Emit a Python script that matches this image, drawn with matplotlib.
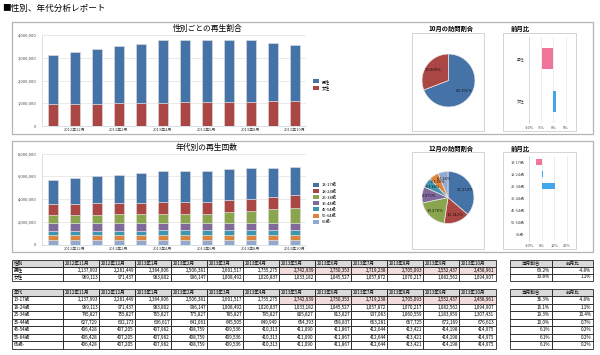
import numpy as np
import matplotlib
matplotlib.use('Agg')
import matplotlib.pyplot as plt
from matplotlib.patches import Rectangle, Patch
from matplotlib.table import Table

plt.rcParams['font.family'] = ['Noto Sans CJK JP', 'DejaVu Sans']

# ---- data ----
months = ['2012年11月', '2012年12月', '2013年1月', '2013年2月', '2013年3月', '2013年4月',
          '2013年5月', '2013年6月', '2013年7月', '2013年8月', '2013年9月', '2013年10月']
genders = ['男性', '女性']
male = [2137993, 2281449, 2384906, 2506381, 2601517, 2755275,
        2742939, 2750353, 2719238, 2705093, 2552437, 2458961]
female = [969113, 971437, 983802, 996147, 1008492, 1020837,
          1033182, 1045527, 1057872, 1070217, 1082562, 1094907]

ages = ['13-17歳', '18-24歳', '25-34歳', '35-44歳', '45-54歳', '55-64歳', '65歳-']
age_13_17 = male
age_18_24 = female
age_25_34 = [745827, 755827, 765827, 775827, 785827, 795827,
             805827, 813827, 937083, 1060559, 1183959, 1307431]
age_35_44 = [627729, 632173, 636617, 641061, 645505, 649949,
             654393, 658837, 663281, 667725, 672169, 676613]
age_45_54 = [406428, 407205, 407982, 408759, 409536, 410313,
             411090, 411867, 412644, 413421, 414198, 414975]
age_55_64 = age_45_54
age_65 = age_45_54
age_series = [age_13_17, age_18_24, age_25_34, age_35_44, age_45_54, age_55_64, age_65]

gender_share = [69.2, 30.8]
gender_mom = [-4.8, 1.1]
age_share = [36.3, 16.1, 19.3, 10.0, 6.1, 6.1, 6.1]
age_mom = [-4.8, 1.1, 10.4, 0.7, 0.2, 0.2, 0.2]
highlight_from = '2013年5月'

colors = ['#4572A7', '#AA4643', '#89A54E', '#80699B', '#3D96AE', '#DB843D', '#92A8CD']
neg_color, pos_color = '#F0759A', '#41A7EA'

W, H = 600, 355
fig = plt.figure(figsize=(6, 3.55), dpi=100)


def box(x0, y0, x1, y1):
    return [x0 / W, 1 - y1 / H, (x1 - x0) / W, (y1 - y0) / H]


bg = fig.add_axes([0, 0, 1, 1])
bg.set_xlim(0, W)
bg.set_ylim(H, 0)
bg.axis('off')
bg.text(2, 8, '■性別、年代分析レポート', fontsize=6.2, va='center', ha='left')
for y0, y1 in [(22, 133.5), (141, 252)]:
    bg.add_patch(Rectangle((12, y0), 581, y1 - y0, fill=False, ec='#b4b4b4', lw=0.9))
    for x0, x1 in [(412, 484), (503, 576)]:
        bg.add_patch(Rectangle((x0, y0 + 11), x1 - x0, y1 - y0 - 14, fill=False, ec='#d4d4d4', lw=0.7))
bg.text(208, 28.5, '性別ごとの再生割合', fontsize=5.6, ha='center', va='center')
bg.text(207, 147.5, '年代別の再生回数', fontsize=5.6, ha='center', va='center')
bg.text(451, 28, '10月の訪問割合', fontsize=4.5, ha='center', va='center', fontweight='bold')
bg.text(451, 148.5, '12月の訪問割合', fontsize=4.5, ha='center', va='center', fontweight='bold')
bg.text(520, 28, '前月比', fontsize=4.6, ha='center', va='center', fontweight='bold')
bg.text(520, 148.5, '前月比', fontsize=4.6, ha='center', va='center', fontweight='bold')


def stacked(rect, series, cols, names, ymax, step, legend_y):
    ax = fig.add_axes(box(*rect))
    x = np.arange(len(months))
    bottom = np.zeros(len(months))
    for vals, c in zip(series, cols):
        ax.bar(x, vals, 0.46, bottom=bottom, color=c, edgecolor='#e2e2e2', linewidth=0.4, zorder=3)
        bottom += np.array(vals)
    ax.set_xlim(-0.5, len(months) - 0.5)
    ax.set_ylim(0, ymax)
    ax.set_yticks(range(0, ymax + 1, step))
    ax.set_yticklabels([f'{v:,}' for v in range(0, ymax + 1, step)])
    ax.set_xticks(x[1::2])
    ax.set_xticklabels(months[1::2])
    ax.tick_params(length=0, labelsize=2.9, colors='#444444')
    ax.tick_params(axis='y', pad=4)
    ax.tick_params(axis='x', pad=1.5)
    ax.grid(axis='y', color='#e2e2e2', lw=0.5, zorder=0)
    for s in ['top', 'right']:
        ax.spines[s].set_visible(False)
    for s in ['left', 'bottom']:
        ax.spines[s].set_color('#c8d4e0')
        ax.spines[s].set_linewidth(0.5)
    lh = [Patch(facecolor=c) for c in cols]
    order = list(range(len(cols)))[::-1]
    ax.legend([lh[i] for i in order], [names[i] for i in order], loc='upper left',
              bbox_to_anchor=(311 / W, 1 - legend_y / H), bbox_transform=fig.transFigure,
              frameon=False, fontsize=3.0, handlelength=1.3, handleheight=1.1,
              labelspacing=0.4, handletextpad=0.8, borderpad=0)
    return ax


stacked((42, 35, 306, 126), [female, male], colors[1::-1], genders[::-1], 4000000, 1000000, 77)
stacked((42, 153.5, 306, 244.5), age_series[::-1], colors[::-1], ages[::-1], 8000000, 2000000, 181)


def pie(cx, cy, r, vals, cols):
    ax = fig.add_axes(box(cx - r, cy - r, cx + r, cy + r))
    ax.pie(vals, colors=cols, startangle=90, counterclock=False, autopct='%.3f%%',
           pctdistance=0.72, radius=1,
           wedgeprops=dict(edgecolor='#e8e8e8', linewidth=0.5),
           textprops=dict(fontsize=2.7, color='#111111', family='DejaVu Serif'))
    ax.set_xlim(-1.02, 1.02)
    ax.set_ylim(-1.02, 1.02)
    ax.set_aspect('equal')


pie(448.5, 80.5, 27, [male[-1], female[-1]], colors[:2])
pie(448, 197.5, 26.5, [s[-1] for s in age_series], colors)


def mom_bars(rect, names, vals, xmin, xmax, ticks):
    ax = fig.add_axes(box(*rect))
    y = np.arange(len(names))
    ax.barh(y, vals, 0.48, color=[neg_color if v < 0 else pos_color for v in vals], zorder=3)
    ax.set_ylim(len(names) - 0.5, -0.5)
    ax.set_xlim(xmin, xmax)
    ax.set_xticks(ticks)
    ax.set_xticklabels([f'{t}%' for t in ticks])
    ax.set_yticks(y)
    ax.set_yticklabels(names)
    ax.tick_params(length=0, labelsize=2.8, colors='#444444')
    ax.tick_params(axis='y', pad=3)
    ax.tick_params(axis='x', pad=2)
    ax.grid(axis='x', color='#e4e4e4', lw=0.5, zorder=0)
    for s in ['top', 'right', 'bottom']:
        ax.spines[s].set_visible(False)
    ax.spines['left'].set_color('#c8d4e0')
    ax.spines['left'].set_linewidth(0.5)


mom_bars((529, 37, 573, 123), genders, gender_mom, -10, 8, [-10, -5, 0, 5])
mom_bars((529, 156, 573, 241), ages, age_mom, -10, 25, [-10, 0, 10, 20])


def draw_table(rect, header, rows, widths, header_loc='left', pink_rows=(), pink_from=None):
    ax = fig.add_axes(box(*rect))
    ax.axis('off')
    tbl = Table(ax, bbox=[0, 0, 1, 1])
    n = len(rows) + 1
    for c, (txt, w) in enumerate(zip(header, widths)):
        tbl.add_cell(0, c, w, 1 / n, text=txt, loc=header_loc, facecolor='#d9d9d9')
    for r, row in enumerate(rows, start=1):
        for c, (txt, w) in enumerate(zip(row, widths)):
            fc = 'white'
            if r - 1 in pink_rows and pink_from is not None and c >= pink_from:
                fc = '#f2dcdb'
            tbl.add_cell(r, c, w, 1 / n, text=txt, loc='left' if (c == 0 and len(widths) > 2) else 'right',
                         facecolor=fc)
    tbl.auto_set_font_size(False)
    tbl.set_fontsize(3.3)
    for cell in tbl.get_celld().values():
        cell.set_linewidth(0.55)
        cell.set_edgecolor('#111111')
        cell.PAD = 0.04
        cell.get_text().set_color('#000000')
    ax.add_table(tbl)


col_w = [51.3] + [36] * len(months)
pink_col = months.index(highlight_from) + 1
draw_table((12, 259.5, 495.5, 280.5), ['性別'] + months,
           [[g] + [f'{v:,}' for v in s] for g, s in zip(genders, [male, female])],
           col_w, pink_rows=(0,), pink_from=pink_col)
draw_table((12, 288.5, 495.5, 348.5), ['年代'] + months,
           [[a] + [f'{v:,}' for v in s] for a, s in zip(ages, age_series)],
           col_w, pink_rows=(0,), pink_from=pink_col)
draw_table((510, 259.5, 593, 280.5), ['当月割合', '前月比'],
           [[f'{a:.1f}%', f'{b:.1f}%'] for a, b in zip(gender_share, gender_mom)],
           [41.5, 41.5], header_loc='center')
draw_table((510, 288.5, 593, 348.5), ['当月割合', '前月比'],
           [[f'{a:.1f}%', f'{b:.1f}%'] for a, b in zip(age_share, age_mom)],
           [41.5, 41.5], header_loc='center')

fig.savefig('out.png', dpi=100)
